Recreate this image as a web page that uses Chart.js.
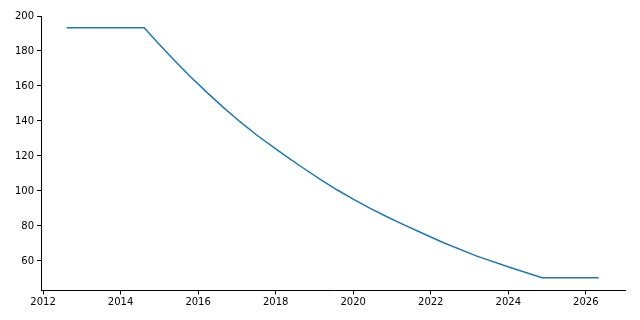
<!DOCTYPE html>
<html>
<head>
<meta charset="utf-8">
<script src="https://cdn.jsdelivr.net/npm/chart.js@4"></script>
<style>
html,body{margin:0;padding:0;background:#fff;}
#wrap{width:640px;height:320px;}
</style>
</head>
<body>
<div id="wrap"><canvas id="c" width="640" height="320"></canvas></div>
<script>
const years = [2012.61, 2014.61, 2014.93, 2015.36, 2015.79, 2016.22, 2016.65, 2017.08, 2017.51, 2018.03, 2018.29, 2018.72, 2019.15, 2019.58, 2020.01, 2020.44, 2020.87, 2021.30, 2021.73, 2022.33, 2023.19, 2024.05, 2024.87, 2026.33];
const values = [193.3, 193.3, 185.4, 175.3, 165.6, 156.5, 147.8, 139.6, 132.0, 123.6, 119.5, 113.0, 106.7, 100.7, 95.2, 90.1, 85.3, 80.8, 76.4, 70.4, 62.8, 56.3, 50.4, 50.4];
const xTicks = [2012, 2014, 2016, 2018, 2020, 2022, 2024, 2026];
const yTicks = [60, 80, 100, 120, 140, 160, 180, 200];

const points = years.map((x, i) => ({x: x, y: values[i]}));
const font = {family: 'DejaVu Sans', size: 10};

new Chart(document.getElementById('c'), {
  type: 'line',
  data: {
    datasets: [{
      data: points,
      borderColor: '#1f77b4',
      borderWidth: 1.5,
      pointRadius: 0,
      fill: false,
      tension: 0
    }]
  },
  options: {
    responsive: false,
    animation: false,
    layout: {padding: {top: 16, right: 15, left: 0, bottom: 0}},
    plugins: {legend: {display: false}, tooltip: {enabled: false}},
    scales: {
      x: {
        type: 'linear',
        min: 2011.948,
        max: 2027.01,
        afterBuildTicks: s => { s.ticks = xTicks.map(v => ({value: v})); },
        afterFit: s => { s.height = 29.5; },
        ticks: {color: '#000', font: font, padding: 2, maxRotation: 0, callback: v => String(v)},
        grid: {drawOnChartArea: false, tickLength: 4, tickColor: '#000', tickWidth: 1},
        border: {color: '#000', width: 1}
      },
      y: {
        min: 43.14,
        max: 200,
        afterBuildTicks: s => { s.ticks = yTicks.map(v => ({value: v})); },
        afterFit: s => { s.width = 41; },
        ticks: {color: '#000', font: font, padding: 3, callback: v => String(v)},
        grid: {drawOnChartArea: false, tickLength: 4, tickColor: '#000', tickWidth: 1},
        border: {color: '#000', width: 1}
      }
    }
  }
});
</script>
</body>
</html>
